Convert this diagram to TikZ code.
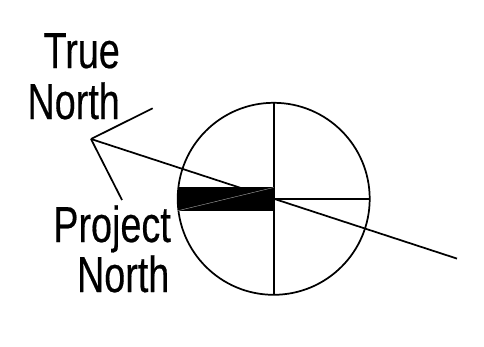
\documentclass[tikz,border=0pt]{standalone}
\usepackage{fontspec}
\setmainfont[FakeBold=0.4]{Liberation Sans}
\tikzset{
  ink/.style={line width=1.3pt,black},
  lbl/.style={anchor=base east,inner sep=0pt,xscale=0.745,font=\fontsize{38}{38}\selectfont}
}
\begin{document}
\begin{tikzpicture}[x=0.75pt,y=-0.75pt]
\useasboundingbox (0,0) rectangle (484,346);
\fill[white] (0,0) rectangle (484,346);
\coordinate (c) at (273.7,198.8);
\coordinate (apex) at (91,139);
\coordinate (tn) at (152.7,108.3);
\coordinate (pn) at (122,200);
\coordinate (far) at (457,258.6);
\begin{scope}
\clip (c) circle [radius=96];
\fill[black] (170,187.3) rectangle (273.7,210.7);
\end{scope}
\draw[ink] (c) circle [radius=96];
\draw[ink] (273.7,102.8) -- (273.7,294.8);
\draw[ink] (c) -- (369.7,198.8);
\draw[ink] (apex) -- (tn);
\draw[ink] (apex) -- (pn);
\draw[ink] (apex) -- (far);
\draw[line width=0.3pt,gray!70] (273.7,187.5) -- (178,210.7);
\node[lbl] (t1) at (120,68) {True};
\node[lbl] (t2) at (120,119) {North};
\node[lbl] (p1) at (171,242) {Project};
\node[lbl] (p2) at (169.5,292) {North};
\end{tikzpicture}
\end{document}
